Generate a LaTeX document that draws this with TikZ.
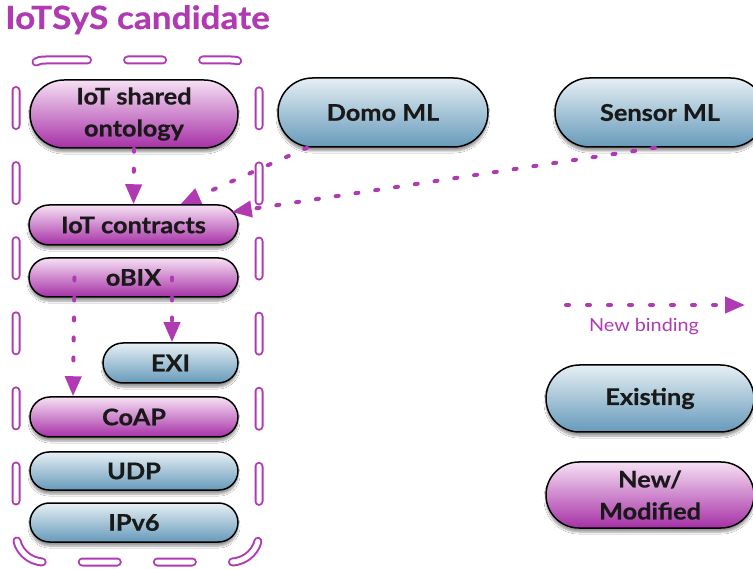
\documentclass[tikz,border=0pt]{standalone}
\usepackage{fontspec}
\setmainfont{Lato}[FakeStretch=1.1, BoldFeatures={FakeBold=0.6}]
\usetikzlibrary{shapes.misc,arrows.meta,shadows,shadows.blur}

\definecolor{plum}{RGB}{176,58,178}
\definecolor{bluetop}{RGB}{230,239,244}
\definecolor{bluebot}{RGB}{102,154,186}
\definecolor{pinktop}{RGB}{246,224,244}
\definecolor{pinkbot}{RGB}{166,48,166}

\tikzset{
  pill/.style={rounded rectangle, draw=black, line width=1.5pt, inner sep=0pt,
    align=center, text=black!90,
    font=\fontsize{23}{32}\selectfont\bfseries,
    blur shadow={shadow xshift=0pt, shadow yshift=-4pt, shadow opacity=40, shadow blur steps=8}},
  oldpill/.style={pill, top color=bluetop, bottom color=bluebot},
  newpill/.style={pill, top color=pinktop, bottom color=pinkbot},
  bind/.style={draw=plum, line width=4pt, line cap=round, dash pattern=on 3pt off 17pt,
    -{Triangle[length=20pt,width=16pt]}},
  boxline/.style={draw=plum, line width=2pt, double=white, double distance=5pt, line cap=round},
}

\begin{document}
\begin{tikzpicture}[x=1pt,y=-1pt]
  \fill[white] (0,0) rectangle (753,569);
  \useasboundingbox (0,0) rectangle (753,569);

  % title
  \node[anchor=base west, inner sep=0pt, text=plum,
        font=\fontsize{32}{38}\selectfont\bfseries] (title) at (5,29) {IoTSyS candidate};

  % dashed frame of the candidate stack
  \draw[boxline, rounded corners=28pt, dash pattern=on 35pt off 40.1pt, dash phase=35pt]
    (87.5,60) -- (259,60) -- (259,562) -- (16,562) -- (16,88);
  \draw[boxline] (36,62) .. controls (38,60.5) and (41,60) .. (46,60) -- (87.5,60);

  % protocol stack
  \node[newpill, minimum width=208pt, minimum height=68pt] (onto) at (134,114) {IoT shared\\ontology};
  \node[newpill, minimum width=209pt, minimum height=40pt] (contracts) at (133.5,225) {IoT contracts};
  \node[newpill, minimum width=209pt, minimum height=39pt] (obix) at (133.5,277.5) {oBIX};
  \node[oldpill, minimum width=135pt, minimum height=40pt] (exi) at (170.5,363) {EXI};
  \node[newpill, minimum width=208pt, minimum height=40pt] (coap) at (134,417) {CoAP};
  \node[oldpill, minimum width=208pt, minimum height=38pt] (udp) at (134,471) {UDP};
  \node[oldpill, minimum width=208pt, minimum height=39pt] (ipv6) at (134,522.5) {IPv6};

  % markup languages
  \node[oldpill, minimum width=210pt, minimum height=69pt] (domo) at (383,112.5) {Domo ML};
  \node[oldpill, minimum width=210pt, minimum height=69pt] (sensor) at (660,112.5) {Sensor ML};

  % legend
  \node[oldpill, minimum width=208pt, minimum height=67pt] (exist) at (650,398.5) {Existing};
  \node[newpill, minimum width=208pt, minimum height=66pt] (newmod) at (650,495) {New/\\Modified};
  \coordinate (lgA) at (566,305);
  \coordinate (lgB) at (745,305);
  \draw[bind, dash pattern=on 3pt off 18pt] (lgA) -- (lgB);
  \node[text=plum, font=\fontsize{18}{21}\selectfont, inner sep=0pt] (lgtxt) at (644,327) {New binding};

  % bindings
  \draw[bind] (onto.south) -- (contracts.north);
  \draw[bind] ([xshift=-76pt]domo.south) -- ([xshift=47pt]contracts.north);
  \draw[bind] ([xshift=-5pt]sensor.south) -- ([shift={(-7pt,13pt)}]contracts.east);
  \draw[bind] ([xshift=-59pt]obix.center) -- ([xshift=-61pt]coap.north);
  \draw[bind] ([xshift=38.5pt]obix.center) -- ([xshift=1.5pt]exi.north);
\end{tikzpicture}
\end{document}
